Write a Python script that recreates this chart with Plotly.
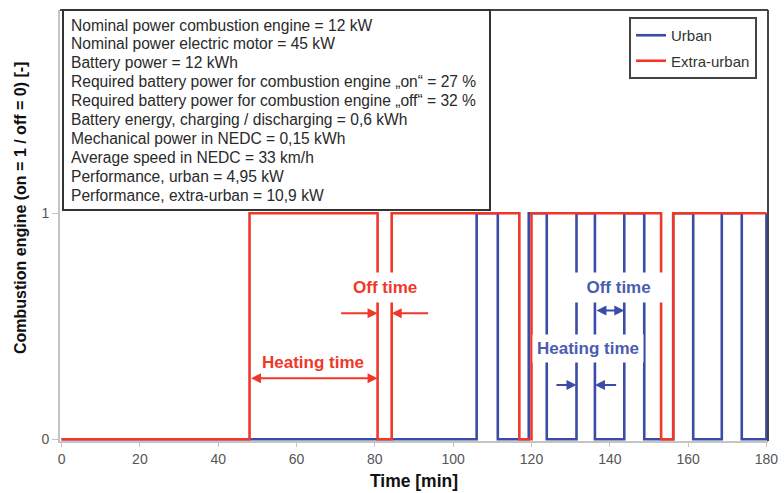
import plotly.graph_objects as go

# ---- data ----
urban_times = [0, 106, 111.4, 119.3, 123.9, 131.5, 136.2, 143.7, 148.8, 156.2, 161.3, 168.6, 173.7, 180]
urban_state = [0, 1, 0, 1, 0, 1, 0, 1, 0, 1, 0, 1, 0, 1]
extra_times = [0, 48, 80.7, 84.3, 116.9, 120, 153.1, 156.2, 180]
extra_state = [0, 1, 0, 1, 0, 1, 0, 1, 1]

x_ticks = [0, 20, 40, 60, 80, 100, 120, 140, 160, 180]
y_ticks = [0, 1]

info_lines = [
    "Nominal power combustion engine = 12 kW",
    "Nominal power electric motor = 45 kW",
    "Battery power = 12 kWh",
    "Required battery power for combustion engine \u201eon\u201c = 27 %",
    "Required battery power for combustion engine \u201eoff\u201c = 32 %",
    "Battery energy, charging / discharging = 0,6 kWh",
    "Mechanical power in NEDC = 0,15 kWh",
    "Average speed in NEDC = 33 km/h",
    "Performance, urban = 4,95 kW",
    "Performance, extra-urban = 10,9 kW",
]

BLUE = "#3a4ca6"
RED = "#f0382a"
BLUE_TXT = "#4b5cb0"
FONT = "Liberation Sans"

W, H = 784, 493
ML, MR, MT, MB = 60, 16, 10, 52
PW, PH = W - ML - MR, H - MT - MB


def px_x(p):
    return (p - ML) / PW


def px_y(p):
    return (H - MB - p) / PH


fig = go.Figure()
fig.add_trace(go.Scatter(x=urban_times, y=urban_state, mode="lines", line_shape="hv",
                         name="Urban", legendgroup="u", line=dict(color=BLUE, width=2.6)))
fig.add_trace(go.Scatter(x=extra_times, y=extra_state, mode="lines", line_shape="hv",
                         name="Extra-urban", legendgroup="e", line=dict(color=RED, width=2.6)))

shapes = []
# plot frame top & right
shapes.append(dict(type="line", xref="paper", yref="paper", x0=0, x1=1, y0=1, y1=1,
                   line=dict(color="#444", width=2)))
shapes.append(dict(type="line", xref="paper", yref="paper", x0=1, x1=1, y0=0, y1=1,
                   line=dict(color="#444", width=2)))
# info box
shapes.append(dict(type="rect", xref="paper", yref="paper", x0=px_x(63), x1=px_x(490),
                   y0=px_y(210), y1=px_y(10), line=dict(color="#333", width=2),
                   fillcolor="white", layer="above"))

annotations = []
y0_line, dy = 25, 18.9
for i, t in enumerate(info_lines):
    annotations.append(dict(text=t, xref="paper", yref="paper", x=px_x(69), y=px_y(y0_line + i * dy),
                            xanchor="left", yanchor="middle", showarrow=False,
                            font=dict(family=FONT, size=15.6, color="#2a2a2a")))

lab_font_r = dict(family=FONT, size=17, color=RED, weight="bold")
lab_font_b = dict(family=FONT, size=17, color=BLUE_TXT, weight="bold")

# red annotations
annotations.append(dict(text="Off time", x=82.6, y=0.67, showarrow=False, font=lab_font_r,
                        bgcolor="white", borderpad=5))
annotations.append(dict(text="Heating time", x=64.3, y=0.34, showarrow=False, font=lab_font_r))
annotations.append(dict(x=80.7, y=0.27, ax=48, ay=0.27, axref="x", ayref="y", text="",
                        showarrow=True, arrowhead=2, arrowside="end+start", arrowsize=1,
                        arrowwidth=2, arrowcolor=RED))
annotations.append(dict(x=80.7, y=0.557, ax=71, ay=0.557, axref="x", ayref="y", text="",
                        showarrow=True, arrowhead=2, arrowsize=1, arrowwidth=2, arrowcolor=RED))
annotations.append(dict(x=84.3, y=0.557, ax=94, ay=0.557, axref="x", ayref="y", text="",
                        showarrow=True, arrowhead=2, arrowsize=1, arrowwidth=2, arrowcolor=RED))
# blue annotations
annotations.append(dict(text="&nbsp;&nbsp;Off time&nbsp;&nbsp;", x=142.1, y=0.67, showarrow=False,
                        font=lab_font_b, bgcolor="white", borderpad=5))
annotations.append(dict(text="Heating time", x=134.4, y=0.40, showarrow=False, font=lab_font_b,
                        bgcolor="white", borderpad=4))
annotations.append(dict(x=143.7, y=0.57, ax=136.2, ay=0.57, axref="x", ayref="y", text="",
                        showarrow=True, arrowhead=2, arrowside="end+start", arrowsize=1,
                        arrowwidth=2, arrowcolor=BLUE))
annotations.append(dict(x=131.5, y=0.24, ax=126, ay=0.24, axref="x", ayref="y", text="",
                        showarrow=True, arrowhead=2, arrowsize=1, arrowwidth=2, arrowcolor=BLUE))
annotations.append(dict(x=136.2, y=0.24, ax=142, ay=0.24, axref="x", ayref="y", text="",
                        showarrow=True, arrowhead=2, arrowsize=1, arrowwidth=2, arrowcolor=BLUE))
# y title
annotations.append(dict(text="<b>Combustion engine (on = 1 / off = 0) [-]</b>", xref="paper", yref="paper",
                        x=px_x(21), y=px_y(208), xanchor="center", yanchor="middle",
                        textangle=-90, showarrow=False,
                        font=dict(family=FONT, size=16, color="#111")))

fig.update_layout(
    width=W, height=H,
    margin=dict(l=ML, r=MR, t=MT, b=MB, autoexpand=False),
    plot_bgcolor="white", paper_bgcolor="white",
    font=dict(family=FONT, size=14, color="#555"),
    showlegend=True,
    legend=dict(x=px_x(757), y=px_y(17), xanchor="right", yanchor="top",
                bordercolor="#444", borderwidth=2, bgcolor="white",
                font=dict(family=FONT, size=15, color="#333"), itemwidth=30,
                traceorder="grouped", tracegroupgap=3),
    xaxis=dict(range=[-0.4, 180.4], tickvals=x_ticks, ticktext=[str(v) for v in x_ticks],
               automargin=False,
               showgrid=False, zeroline=False, showline=True, linecolor="#c4c4c4", linewidth=2,
               ticks="outside", ticklen=4, tickcolor="#c4c4c4",
               tickfont=dict(family=FONT, size=14, color="#555"),
               title=dict(text="<b>Time [min]</b>", font=dict(family=FONT, size=17.5, color="#111"),
                          standoff=9)),
    yaxis=dict(range=[-0.008, 1.9], tickvals=y_ticks, ticktext=["0", "1"],
               automargin=False,
               showgrid=False, zeroline=False, showline=True, linecolor="#c4c4c4", linewidth=2,
               ticks="outside", ticklen=6, tickcolor="#c4c4c4",
               tickfont=dict(family=FONT, size=14, color="#555")),
    shapes=shapes,
    annotations=annotations,
)

fig.write_html("out.html", config={"displayModeBar": False},
               post_script="document.body.style.margin='0';document.body.style.overflow='hidden';")
